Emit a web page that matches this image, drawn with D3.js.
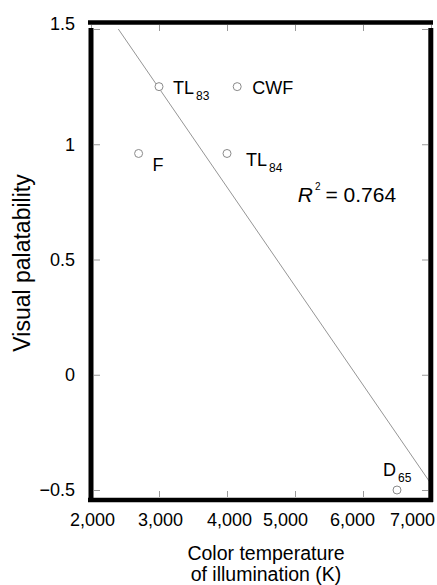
<!DOCTYPE html>
<html>
<head>
<meta charset="utf-8">
<script src="https://cdn.jsdelivr.net/npm/d3@7"></script>
<style>
    body {margin: 0; background: #fff;}
    #chart {font-family: "Liberation Sans", Arial, sans-serif;}
    .tick line {stroke: #9a9a9a; stroke-width: 1px;}
    .frame {stroke: #000; stroke-linecap: butt;}
</style>
</head>
<body>
<div id="chart"></div>
<script>

    // data
    let lamps = ["F", "TL", "TL", "CWF", "D"];
    let lampSubs = ["", "83", "84", "", "65"];
    let colorTemp = [2700, 3000, 4000, 4150, 6500];
    let palatability = [0.96, 1.25, 0.96, 1.25, -0.5];

    let xTicks = [2000, 3000, 4000, 5000, 6000, 7000];
    let yTicks = [-0.5, 0, 0.5, 1, 1.5];
    let r2Text = "0.764";

    let xTitle = ["Color temperature", "of illumination (K)"];
    let yTitle = "Visual palatability";

    // label placement relative to each circle
    let labelOffset = [[14, 18], [14, 7], [19, 13], [15, 7], [-14, -14]];
    // x tick labels in the figure sit a little left of their ticks at the right end
    let xLabelNudge = [1, 1, 2, -10, -11, -19];

    let width = 437, height = 585;

    let x = d3.scaleLinear().domain([2000, 7000]).range([91, 431]);
    let y = d3.scaleLinear().domain([-0.5, 1.5]).range([490, 29]);

    let svg = d3.select("#chart").append("svg")
        .attr("width", width)
        .attr("height", height);

    // ticks, inward on all four sides
    svg.append("g")
        .attr("transform", "translate(94,0)")
        .call(d3.axisLeft(y).tickValues(yTicks).tickSizeInner(-6).tickSizeOuter(0).tickFormat(""))
        .call(g => g.select(".domain").remove());
    svg.append("g")
        .attr("transform", "translate(428,0)")
        .call(d3.axisRight(y).tickValues(yTicks).tickSizeInner(-6).tickSizeOuter(0).tickFormat(""))
        .call(g => g.select(".domain").remove());
    svg.append("g")
        .attr("transform", "translate(0,25)")
        .call(d3.axisTop(x).tickValues(xTicks).tickSizeInner(-6).tickSizeOuter(0).tickFormat(""))
        .call(g => g.select(".domain").remove());
    svg.append("g")
        .attr("transform", "translate(0,497)")
        .call(d3.axisBottom(x).tickValues(xTicks).tickSizeInner(-6).tickSizeOuter(0).tickFormat(""))
        .call(g => g.select(".domain").remove());

    // tick labels
    let yAxis = svg.append("g")
        .attr("transform", "translate(91,0)")
        .call(d3.axisLeft(y).tickValues(yTicks).tickSize(0).tickPadding(16).tickFormat(d3.format("")));
    yAxis.select(".domain").remove();
    yAxis.selectAll("text")
        .attr("font-size", 18)
        .attr("font-family", "Liberation Sans, Arial, sans-serif")
        .attr("fill", "#000")
        .attr("y", d => d === 1.5 ? -5 : 0);

    let xAxis = svg.append("g")
        .attr("transform", "translate(0,500)")
        .call(d3.axisBottom(x).tickValues(xTicks).tickSize(0).tickPadding(13).tickFormat(d3.format(",")));
    xAxis.select(".domain").remove();
    xAxis.selectAll("text")
        .attr("font-size", 18)
        .attr("font-family", "Liberation Sans, Arial, sans-serif")
        .attr("fill", "#000")
        .attr("x", (d, i) => xLabelNudge[i]);

    // least squares fit
    let mx = d3.mean(colorTemp), my = d3.mean(palatability);
    let sxy = d3.sum(colorTemp, (d, i) => (d - mx) * (palatability[i] - my));
    let sxx = d3.sum(colorTemp, d => (d - mx) * (d - mx));
    let slope = sxy / sxx, icpt = my - slope * mx;
    let xStart = (1.5 - icpt) / slope;

    svg.append("line")
        .attr("x1", x(xStart)).attr("y1", y(1.5))
        .attr("x2", x(7000)).attr("y2", y(icpt + slope * 7000))
        .attr("stroke", "#7a7a7a")
        .attr("stroke-width", 0.8);

    // points
    svg.selectAll(".pt")
        .data(colorTemp)
        .enter().append("circle")
        .attr("class", "pt")
        .attr("cx", d => x(d))
        .attr("cy", (d, i) => y(palatability[i]))
        .attr("r", 4)
        .attr("fill", "#fff")
        .attr("stroke", "#8a8a8a")
        .attr("stroke-width", 1);

    let labels = svg.selectAll(".lbl")
        .data(lamps)
        .enter().append("text")
        .attr("class", "lbl")
        .attr("x", (d, i) => x(colorTemp[i]) + labelOffset[i][0])
        .attr("y", (d, i) => y(palatability[i]) + labelOffset[i][1])
        .attr("fill", "#000")
        .attr("font-size", 18);
    labels.append("tspan").text(d => d);
    labels.append("tspan")
        .attr("font-size", 12)
        .attr("dx", 2)
        .attr("dy", 6)
        .text((d, i) => lampSubs[i]);

    // R squared
    let r2 = svg.append("text")
        .attr("x", x(5040))
        .attr("y", y(0.75))
        .attr("fill", "#000")
        .attr("font-size", 21);
    r2.append("tspan").attr("font-style", "italic").text("R");
    r2.append("tspan").attr("font-size", 10).attr("dx", 2).attr("dy", -12).text("2");
    r2.append("tspan").attr("dx", 5).attr("dy", 12).text("= " + r2Text);

    // heavy frame
    svg.append("line").attr("class", "frame")
        .attr("x1", 88).attr("x2", 433).attr("y1", 22.5).attr("y2", 22.5)
        .attr("stroke-width", 4.5);
    svg.append("line").attr("class", "frame")
        .attr("x1", 88).attr("x2", 433).attr("y1", 500).attr("y2", 500)
        .attr("stroke-width", 4.5);
    svg.append("line").attr("class", "frame")
        .attr("x1", 91).attr("x2", 91).attr("y1", 28).attr("y2", 502)
        .attr("stroke-width", 5);
    svg.append("line").attr("class", "frame")
        .attr("x1", 430.8).attr("x2", 430.8).attr("y1", 28).attr("y2", 502)
        .attr("stroke-width", 5);

    // axis titles
    svg.append("text")
        .attr("transform", "translate(30,263) rotate(-90)")
        .attr("text-anchor", "middle")
        .attr("font-size", 23)
        .text(yTitle);

    svg.selectAll(".x-title")
        .data(xTitle)
        .enter().append("text")
        .attr("class", "x-title")
        .attr("x", 266)
        .attr("y", (d, i) => 560 + i * 21)
        .attr("text-anchor", "middle")
        .attr("font-size", 19.5)
        .text(d => d);

</script>
</body>
</html>
